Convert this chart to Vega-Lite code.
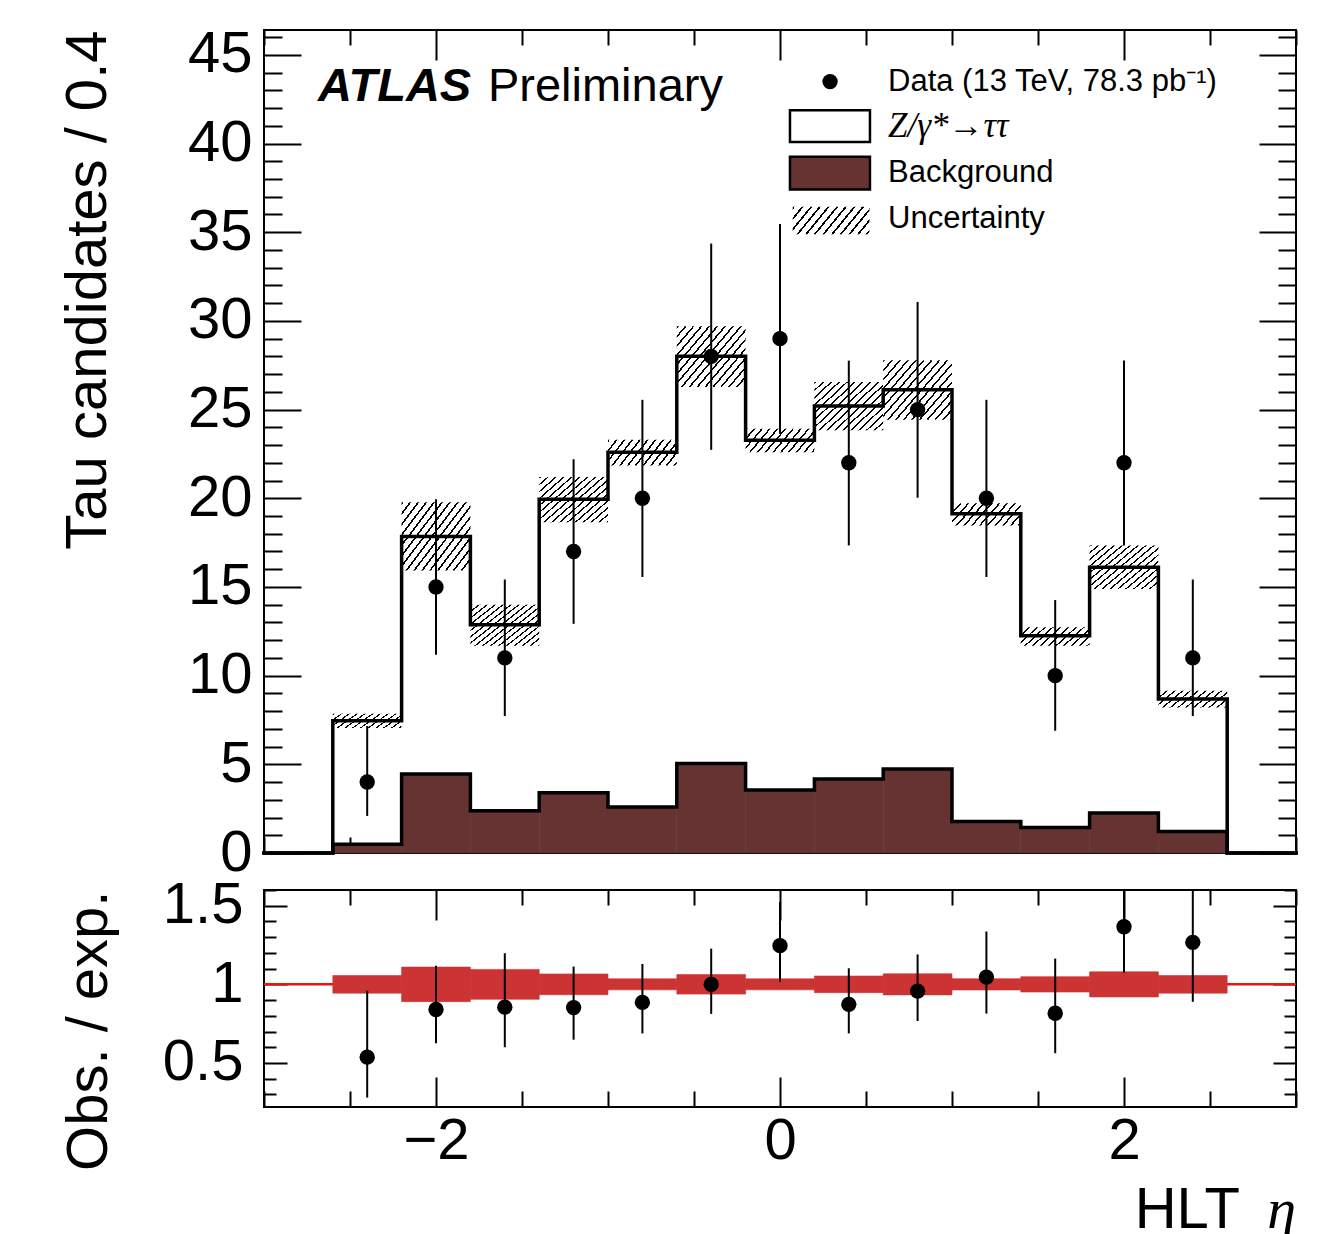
{
"$schema": "https://vega.github.io/schema/vega-lite/v6.json",
"background": "white",
"padding": {"left": 58, "top": 24, "right": 20, "bottom": 0},
"config": {
  "view": {"stroke": "black", "strokeWidth": 2},
  "font": "Liberation Sans",
  "axis": {"domain": false, "grid": false, "tickColor": "black", "tickWidth": 2, "labelColor": "black", "titleColor": "black", "labelFont": "Liberation Sans", "titleFont": "Liberation Sans", "labelFontSize": 58, "titleFontSize": 58, "titleFontWeight": "normal"}
},
"datasets": {"bins": [
{"lo":-3.0,"hi":-2.6,"c":-2.8,"tot":0,"bg":0},
{"lo":-2.6,"hi":-2.2,"c":-2.4,"tot":7.46,"bg":0.5,"ulo":7.05,"uhi":7.85,"n":4,"elo":2.09,"ehi":7.16,"r":0.537,"rlo":0.28,"rhi":0.96,"blo":0.944,"bhi":1.056},
{"lo":-2.2,"hi":-1.8,"c":-2.0,"tot":17.85,"bg":4.45,"ulo":15.93,"uhi":19.78,"n":15,"elo":11.18,"ehi":19.95,"r":0.84,"rlo":0.626,"rhi":1.118,"blo":0.89,"bhi":1.11},
{"lo":-1.8,"hi":-1.4,"c":-1.6,"tot":12.87,"bg":2.38,"ulo":11.69,"uhi":14.0,"n":11,"elo":7.72,"ehi":15.42,"r":0.855,"rlo":0.6,"rhi":1.198,"blo":0.905,"bhi":1.095},
{"lo":-1.4,"hi":-1.0,"c":-1.2,"tot":19.95,"bg":3.4,"ulo":18.65,"uhi":21.2,"n":17,"elo":12.92,"ehi":22.2,"r":0.852,"rlo":0.648,"rhi":1.113,"blo":0.934,"bhi":1.066},
{"lo":-1.0,"hi":-0.6,"c":-0.8,"tot":22.6,"bg":2.6,"ulo":21.85,"uhi":23.3,"n":20,"elo":15.56,"ehi":25.55,"r":0.885,"rlo":0.688,"rhi":1.13,"blo":0.965,"bhi":1.035},
{"lo":-0.6,"hi":-0.2,"c":-0.4,"tot":28.0,"bg":5.05,"ulo":26.27,"uhi":29.7,"n":28,"elo":22.73,"ehi":34.36,"r":1.0,"rlo":0.812,"rhi":1.227,"blo":0.938,"bhi":1.062},
{"lo":-0.2,"hi":0.2,"c":0.0,"tot":23.27,"bg":3.55,"ulo":22.6,"uhi":23.92,"n":29,"elo":23.64,"ehi":35.46,"r":1.246,"rlo":1.016,"rhi":1.524,"blo":0.965,"bhi":1.035},
{"lo":0.2,"hi":0.6,"c":0.4,"tot":25.2,"bg":4.17,"ulo":23.83,"uhi":26.55,"n":22,"elo":17.34,"ehi":27.76,"r":0.873,"rlo":0.688,"rhi":1.102,"blo":0.947,"bhi":1.053},
{"lo":0.6,"hi":1.0,"c":0.8,"tot":26.12,"bg":4.73,"ulo":24.43,"uhi":27.78,"n":25,"elo":20.03,"ehi":31.07,"r":0.957,"rlo":0.767,"rhi":1.19,"blo":0.933,"bhi":1.067},
{"lo":1.0,"hi":1.4,"c":1.2,"tot":19.12,"bg":1.78,"ulo":18.46,"uhi":19.72,"n":20,"elo":15.56,"ehi":25.55,"r":1.046,"rlo":0.814,"rhi":1.336,"blo":0.964,"bhi":1.036},
{"lo":1.4,"hi":1.8,"c":1.6,"tot":12.25,"bg":1.44,"ulo":11.69,"uhi":12.73,"n":10,"elo":6.89,"ehi":14.26,"r":0.816,"rlo":0.562,"rhi":1.164,"blo":0.951,"bhi":1.049},
{"lo":1.8,"hi":2.2,"c":2.0,"tot":16.11,"bg":2.25,"ulo":14.89,"uhi":17.34,"n":22,"elo":17.34,"ehi":27.76,"r":1.366,"rlo":1.076,"rhi":1.723,"blo":0.92,"bhi":1.08},
{"lo":2.2,"hi":2.6,"c":2.4,"tot":8.68,"bg":1.21,"ulo":8.21,"uhi":9.15,"n":11,"elo":7.72,"ehi":15.42,"r":1.267,"rlo":0.889,"rhi":1.776,"blo":0.944,"bhi":1.056},
{"lo":2.6,"hi":3.0,"c":2.8,"tot":0,"bg":0}
]},
"spacing": 37,
"bounds": "flush",
"vconcat": [
{
  "width": 1032, "height": 823,
  "data": {"name": "bins"},
  "resolve": {"axis": {"x": "independent", "y": "independent"}},
  "layer": [
    {
      "mark": {"type": "rect", "fill": "#663333", "stroke": "#663333", "strokeWidth": 0.6},
      "encoding": {
        "x": {"field": "lo", "type": "quantitative", "scale": {"domain": [-3, 3], "nice": false, "zero": false},
              "axis": {"orient": "bottom", "values": [-3,-2.5,-2,-1.5,-1,-0.5,0,0.5,1,1.5,2,2.5,3], "labels": false, "title": null,
                       "tickSize": {"condition": {"test": "datum.value % 2 === 0", "value": -31}, "value": -16}}},
        "x2": {"field": "hi"},
        "y": {"field": "bg", "type": "quantitative", "scale": {"domain": [0, 46.4], "nice": false, "zero": false},
              "axis": {"orient": "left", "values": [0,1,2,3,4,5,6,7,8,9,10,11,12,13,14,15,16,17,18,19,20,21,22,23,24,25,26,27,28,29,30,31,32,33,34,35,36,37,38,39,40,41,42,43,44,45,46],
                       "tickSize": {"condition": {"test": "datum.value % 5 === 0", "value": -37}, "value": -18},
                       "labelExpr": "datum.value % 5 === 0 ? datum.label : ''", "labelPadding": 49,
                       "title": "Tau candidates / 0.4", "titleAnchor": "end", "titlePadding": 70}},
        "y2": {"datum": 0}
      }
    },
    {
      "mark": {"type": "rect"},
      "encoding": {
        "x": {"field": "lo", "type": "quantitative", "scale": {"domain": [-3, 3], "nice": false, "zero": false},
              "axis": {"orient": "top", "values": [-3,-2.5,-2,-1.5,-1,-0.5,0,0.5,1,1.5,2,2.5,3], "labels": false, "title": null,
                       "tickSize": {"condition": {"test": "datum.value % 2 === 0", "value": -30}, "value": -15}}},
        "x2": {"field": "hi"},
        "y": {"field": "ulo", "type": "quantitative", "scale": {"domain": [0, 46.4], "nice": false, "zero": false},
              "axis": {"orient": "right", "values": [0,1,2,3,4,5,6,7,8,9,10,11,12,13,14,15,16,17,18,19,20,21,22,23,24,25,26,27,28,29,30,31,32,33,34,35,36,37,38,39,40,41,42,43,44,45,46],
                       "labels": false, "title": null,
                       "tickSize": {"condition": {"test": "datum.value % 5 === 0", "value": -37}, "value": -18}}},
        "y2": {"field": "uhi"},
        "fill": {
          "condition": {"test": "datum.uhi - datum.ulo > 2", "value": {"gradient": "linear", "x1": 0, "y1": 0, "x2": 1.25, "y2": 0.9375, "stops": [
            {"offset":0,"color":"black"},{"offset":0.0147,"color":"black"},{"offset":0.0147,"color":"white"},
            {"offset":0.0588,"color":"white"},{"offset":0.0588,"color":"black"},{"offset":0.0735,"color":"black"},{"offset":0.0735,"color":"white"},
            {"offset":0.1176,"color":"white"},{"offset":0.1176,"color":"black"},{"offset":0.1324,"color":"black"},{"offset":0.1324,"color":"white"},
            {"offset":0.1765,"color":"white"},{"offset":0.1765,"color":"black"},{"offset":0.1912,"color":"black"},{"offset":0.1912,"color":"white"},
            {"offset":0.2353,"color":"white"},{"offset":0.2353,"color":"black"},{"offset":0.25,"color":"black"},{"offset":0.25,"color":"white"},
            {"offset":0.2941,"color":"white"},{"offset":0.2941,"color":"black"},{"offset":0.3088,"color":"black"},{"offset":0.3088,"color":"white"},
            {"offset":0.3529,"color":"white"},{"offset":0.3529,"color":"black"},{"offset":0.3676,"color":"black"},{"offset":0.3676,"color":"white"},
            {"offset":0.4118,"color":"white"},{"offset":0.4118,"color":"black"},{"offset":0.4265,"color":"black"},{"offset":0.4265,"color":"white"},
            {"offset":0.4706,"color":"white"},{"offset":0.4706,"color":"black"},{"offset":0.4853,"color":"black"},{"offset":0.4853,"color":"white"},
            {"offset":0.5294,"color":"white"},{"offset":0.5294,"color":"black"},{"offset":0.5441,"color":"black"},{"offset":0.5441,"color":"white"},
            {"offset":0.5882,"color":"white"},{"offset":0.5882,"color":"black"},{"offset":0.6029,"color":"black"},{"offset":0.6029,"color":"white"},
            {"offset":0.6471,"color":"white"},{"offset":0.6471,"color":"black"},{"offset":0.6618,"color":"black"},{"offset":0.6618,"color":"white"},
            {"offset":0.7059,"color":"white"},{"offset":0.7059,"color":"black"},{"offset":0.7206,"color":"black"},{"offset":0.7206,"color":"white"},
            {"offset":0.7647,"color":"white"},{"offset":0.7647,"color":"black"},{"offset":0.7794,"color":"black"},{"offset":0.7794,"color":"white"},
            {"offset":0.8235,"color":"white"},{"offset":0.8235,"color":"black"},{"offset":0.8382,"color":"black"},{"offset":0.8382,"color":"white"},
            {"offset":0.8824,"color":"white"},{"offset":0.8824,"color":"black"},{"offset":0.8971,"color":"black"},{"offset":0.8971,"color":"white"},
            {"offset":0.9412,"color":"white"},{"offset":0.9412,"color":"black"},{"offset":0.9559,"color":"black"},{"offset":0.9559,"color":"white"},
            {"offset":1,"color":"white"}]}},
          "value": {"gradient": "linear", "x1": 0, "y1": 0, "x2": 1.25, "y2": 0.3625, "stops": [
            {"offset":0,"color":"black"},{"offset":0.0208,"color":"black"},{"offset":0.0208,"color":"white"},
            {"offset":0.0833,"color":"white"},{"offset":0.0833,"color":"black"},{"offset":0.1042,"color":"black"},{"offset":0.1042,"color":"white"},
            {"offset":0.1667,"color":"white"},{"offset":0.1667,"color":"black"},{"offset":0.1875,"color":"black"},{"offset":0.1875,"color":"white"},
            {"offset":0.25,"color":"white"},{"offset":0.25,"color":"black"},{"offset":0.2708,"color":"black"},{"offset":0.2708,"color":"white"},
            {"offset":0.3333,"color":"white"},{"offset":0.3333,"color":"black"},{"offset":0.3542,"color":"black"},{"offset":0.3542,"color":"white"},
            {"offset":0.4167,"color":"white"},{"offset":0.4167,"color":"black"},{"offset":0.4375,"color":"black"},{"offset":0.4375,"color":"white"},
            {"offset":0.5,"color":"white"},{"offset":0.5,"color":"black"},{"offset":0.5208,"color":"black"},{"offset":0.5208,"color":"white"},
            {"offset":0.5833,"color":"white"},{"offset":0.5833,"color":"black"},{"offset":0.6042,"color":"black"},{"offset":0.6042,"color":"white"},
            {"offset":0.6667,"color":"white"},{"offset":0.6667,"color":"black"},{"offset":0.6875,"color":"black"},{"offset":0.6875,"color":"white"},
            {"offset":0.75,"color":"white"},{"offset":0.75,"color":"black"},{"offset":0.7708,"color":"black"},{"offset":0.7708,"color":"white"},
            {"offset":0.8333,"color":"white"},{"offset":0.8333,"color":"black"},{"offset":0.8542,"color":"black"},{"offset":0.8542,"color":"white"},
            {"offset":0.9167,"color":"white"},{"offset":0.9167,"color":"black"},{"offset":0.9375,"color":"black"},{"offset":0.9375,"color":"white"},
            {"offset":1,"color":"white"}]}
        }
      }
    },
    {
      "transform": [{"fold": ["lo", "hi"], "as": ["side", "edge"]}],
      "mark": {"type": "line", "color": "black", "strokeWidth": 3.5, "strokeJoin": "miter", "strokeCap": "square"},
      "encoding": {
        "x": {"field": "edge", "type": "quantitative", "scale": {"domain": [-3, 3], "nice": false, "zero": false}, "axis": null},
        "y": {"field": "tot", "type": "quantitative", "scale": {"domain": [0, 46.4], "nice": false, "zero": false}, "axis": null},
        "order": [{"field": "edge", "type": "quantitative"}, {"field": "side", "type": "nominal", "sort": "ascending"}]
      }
    },
    {
      "transform": [{"fold": ["lo", "hi"], "as": ["side", "edge"]}],
      "mark": {"type": "line", "color": "black", "strokeWidth": 3.5, "strokeJoin": "miter", "strokeCap": "square"},
      "encoding": {
        "x": {"field": "edge", "type": "quantitative", "scale": {"domain": [-3, 3], "nice": false, "zero": false}, "axis": null},
        "y": {"field": "bg", "type": "quantitative", "scale": {"domain": [0, 46.4], "nice": false, "zero": false}, "axis": null},
        "order": [{"field": "edge", "type": "quantitative"}, {"field": "side", "type": "nominal", "sort": "ascending"}]
      }
    },
    {
      "mark": {"type": "rule", "color": "black", "strokeWidth": 2},
      "encoding": {
        "x": {"field": "c", "type": "quantitative", "scale": {"domain": [-3, 3], "nice": false, "zero": false}, "axis": null},
        "y": {"field": "elo", "type": "quantitative", "scale": {"domain": [0, 46.4], "nice": false, "zero": false}, "axis": null},
        "y2": {"field": "ehi"}
      }
    },
    {
      "mark": {"type": "point", "shape": "circle", "filled": true, "color": "black", "opacity": 1, "size": 236},
      "encoding": {
        "x": {"field": "c", "type": "quantitative", "scale": {"domain": [-3, 3], "nice": false, "zero": false}, "axis": null},
        "y": {"field": "n", "type": "quantitative", "scale": {"domain": [0, 46.4], "nice": false, "zero": false}, "axis": null}
      }
    },
    {
      "data": {"values": [{}]},
      "mark": {"type": "point", "shape": "circle", "filled": true, "color": "black", "opacity": 1, "size": 236},
      "encoding": {
        "x": {"datum": 0.291, "type": "quantitative", "scale": {"domain": [-3, 3], "nice": false, "zero": false}, "axis": null},
        "y": {"datum": 43.49, "type": "quantitative", "scale": {"domain": [0, 46.4], "nice": false, "zero": false}, "axis": null}
      }
    },
    {
      "data": {"values": [{}]},
      "mark": {"type": "rect", "fill": "white", "stroke": "black", "strokeWidth": 2.5},
      "encoding": {
        "x": {"datum": 0.058, "type": "quantitative", "scale": {"domain": [-3, 3], "nice": false, "zero": false}, "axis": null},
        "x2": {"datum": 0.523},
        "y": {"datum": 41.88, "type": "quantitative", "scale": {"domain": [0, 46.4], "nice": false, "zero": false}, "axis": null},
        "y2": {"datum": 40.08}
      }
    },
    {
      "data": {"values": [{}]},
      "mark": {"type": "rect", "fill": "#663333", "stroke": "black", "strokeWidth": 2.5},
      "encoding": {
        "x": {"datum": 0.058, "type": "quantitative", "scale": {"domain": [-3, 3], "nice": false, "zero": false}, "axis": null},
        "x2": {"datum": 0.523},
        "y": {"datum": 39.25, "type": "quantitative", "scale": {"domain": [0, 46.4], "nice": false, "zero": false}, "axis": null},
        "y2": {"datum": 37.41}
      }
    },
    {
      "data": {"values": [{}]},
      "mark": {"type": "rect", "fill": {"gradient": "linear", "x1": 0, "y1": 0, "x2": 1.25, "y2": 0.3625, "stops": [
            {"offset":0,"color":"black"},{"offset":0.0208,"color":"black"},{"offset":0.0208,"color":"white"},
            {"offset":0.0833,"color":"white"},{"offset":0.0833,"color":"black"},{"offset":0.1042,"color":"black"},{"offset":0.1042,"color":"white"},
            {"offset":0.1667,"color":"white"},{"offset":0.1667,"color":"black"},{"offset":0.1875,"color":"black"},{"offset":0.1875,"color":"white"},
            {"offset":0.25,"color":"white"},{"offset":0.25,"color":"black"},{"offset":0.2708,"color":"black"},{"offset":0.2708,"color":"white"},
            {"offset":0.3333,"color":"white"},{"offset":0.3333,"color":"black"},{"offset":0.3542,"color":"black"},{"offset":0.3542,"color":"white"},
            {"offset":0.4167,"color":"white"},{"offset":0.4167,"color":"black"},{"offset":0.4375,"color":"black"},{"offset":0.4375,"color":"white"},
            {"offset":0.5,"color":"white"},{"offset":0.5,"color":"black"},{"offset":0.5208,"color":"black"},{"offset":0.5208,"color":"white"},
            {"offset":0.5833,"color":"white"},{"offset":0.5833,"color":"black"},{"offset":0.6042,"color":"black"},{"offset":0.6042,"color":"white"},
            {"offset":0.6667,"color":"white"},{"offset":0.6667,"color":"black"},{"offset":0.6875,"color":"black"},{"offset":0.6875,"color":"white"},
            {"offset":0.75,"color":"white"},{"offset":0.75,"color":"black"},{"offset":0.7708,"color":"black"},{"offset":0.7708,"color":"white"},
            {"offset":0.8333,"color":"white"},{"offset":0.8333,"color":"black"},{"offset":0.8542,"color":"black"},{"offset":0.8542,"color":"white"},
            {"offset":0.9167,"color":"white"},{"offset":0.9167,"color":"black"},{"offset":0.9375,"color":"black"},{"offset":0.9375,"color":"white"},
            {"offset":1,"color":"white"}]}},
      "encoding": {
        "x": {"datum": 0.074, "type": "quantitative", "scale": {"domain": [-3, 3], "nice": false, "zero": false}, "axis": null},
        "x2": {"datum": 0.52},
        "y": {"datum": 36.43, "type": "quantitative", "scale": {"domain": [0, 46.4], "nice": false, "zero": false}, "axis": null},
        "y2": {"datum": 34.89}
      }
    },
    {
      "data": {"values": [{}]},
      "mark": {"type": "text", "text": "Data (13 TeV, 78.3 pb⁻¹)", "font": "Liberation Sans", "fontSize": 31, "align": "left", "baseline": "middle", "color": "black"},
      "encoding": {
        "x": {"datum": 0.628, "type": "quantitative", "scale": {"domain": [-3, 3], "nice": false, "zero": false}, "axis": null},
        "y": {"datum": 43.49, "type": "quantitative", "scale": {"domain": [0, 46.4], "nice": false, "zero": false}, "axis": null}
      }
    },
    {
      "data": {"values": [{}]},
      "mark": {"type": "text", "text": "Z/γ*→ττ", "font": "Liberation Serif", "fontStyle": "italic", "fontSize": 35, "align": "left", "baseline": "middle", "color": "black"},
      "encoding": {
        "x": {"datum": 0.628, "type": "quantitative", "scale": {"domain": [-3, 3], "nice": false, "zero": false}, "axis": null},
        "y": {"datum": 40.98, "type": "quantitative", "scale": {"domain": [0, 46.4], "nice": false, "zero": false}, "axis": null}
      }
    },
    {
      "data": {"values": [{}]},
      "mark": {"type": "text", "text": "Background", "font": "Liberation Sans", "fontSize": 31, "align": "left", "baseline": "middle", "color": "black"},
      "encoding": {
        "x": {"datum": 0.628, "type": "quantitative", "scale": {"domain": [-3, 3], "nice": false, "zero": false}, "axis": null},
        "y": {"datum": 38.35, "type": "quantitative", "scale": {"domain": [0, 46.4], "nice": false, "zero": false}, "axis": null}
      }
    },
    {
      "data": {"values": [{}]},
      "mark": {"type": "text", "text": "Uncertainty", "font": "Liberation Sans", "fontSize": 31, "align": "left", "baseline": "middle", "color": "black"},
      "encoding": {
        "x": {"datum": 0.628, "type": "quantitative", "scale": {"domain": [-3, 3], "nice": false, "zero": false}, "axis": null},
        "y": {"datum": 35.72, "type": "quantitative", "scale": {"domain": [0, 46.4], "nice": false, "zero": false}, "axis": null}
      }
    },
    {
      "data": {"values": [{}]},
      "mark": {"type": "text", "text": "ATLAS", "font": "Liberation Sans", "fontSize": 47, "fontStyle": "italic", "fontWeight": "bold", "align": "left", "baseline": "alphabetic", "color": "black"},
      "encoding": {
        "x": {"datum": -2.686, "type": "quantitative", "scale": {"domain": [-3, 3], "nice": false, "zero": false}, "axis": null},
        "y": {"datum": 42.41, "type": "quantitative", "scale": {"domain": [0, 46.4], "nice": false, "zero": false}, "axis": null}
      }
    },
    {
      "data": {"values": [{}]},
      "mark": {"type": "text", "text": "Preliminary", "font": "Liberation Sans", "fontSize": 47, "align": "left", "baseline": "alphabetic", "color": "black"},
      "encoding": {
        "x": {"datum": -1.698, "type": "quantitative", "scale": {"domain": [-3, 3], "nice": false, "zero": false}, "axis": null},
        "y": {"datum": 42.41, "type": "quantitative", "scale": {"domain": [0, 46.4], "nice": false, "zero": false}, "axis": null}
      }
    }
  ]
},
{
  "width": 1032, "height": 217,
  "data": {"name": "bins"},
  "resolve": {"axis": {"x": "independent", "y": "independent"}},
  "layer": [
    {
      "data": {"values": [{}]},
      "mark": {"type": "rule", "color": "#ee1111", "strokeWidth": 2.5},
      "encoding": {
        "y": {"datum": 1, "type": "quantitative", "scale": {"domain": [0.22, 1.6], "nice": false, "zero": false}, "axis": null}
      }
    },
    {
      "mark": {"type": "rect", "fill": "#cc3333", "stroke": "#cc3333", "strokeWidth": 0.6},
      "encoding": {
        "x": {"field": "lo", "type": "quantitative", "scale": {"domain": [-3, 3], "nice": false, "zero": false},
              "axis": {"orient": "bottom", "values": [-3,-2.5,-2,-1.5,-1,-0.5,0,0.5,1,1.5,2,2.5,3], "title": null,
                       "tickSize": {"condition": {"test": "datum.value % 2 === 0", "value": -30}, "value": -16},
                       "labelExpr": "datum.value % 2 === 0 ? format(datum.value, 'd') : ''", "labelPadding": 35}},
        "x2": {"field": "hi"},
        "y": {"field": "blo", "type": "quantitative", "scale": {"domain": [0.22, 1.6], "nice": false, "zero": false},
              "axis": {"orient": "left", "values": [0.3,0.4,0.5,0.6,0.7,0.8,0.9,1,1.1,1.2,1.3,1.4,1.5,1.6],
                       "tickSize": {"condition": {"test": "datum.value == 0.5 || datum.value == 1 || datum.value == 1.5", "value": -23}, "value": -12},
                       "labelExpr": "datum.value == 0.5 ? '0.5' : datum.value == 1 ? '1' : datum.value == 1.5 ? '1.5' : ''", "labelPadding": 44,
                       "title": "Obs. / exp.", "titleAnchor": "end", "titlePadding": 44}},
        "y2": {"field": "bhi"}
      }
    },
    {
      "mark": {"type": "rule", "color": "black", "strokeWidth": 2, "clip": true},
      "encoding": {
        "x": {"field": "c", "type": "quantitative", "scale": {"domain": [-3, 3], "nice": false, "zero": false},
              "axis": {"orient": "top", "values": [-3,-2.5,-2,-1.5,-1,-0.5,0,0.5,1,1.5,2,2.5,3], "labels": false, "title": null,
                       "tickSize": {"condition": {"test": "datum.value % 2 === 0", "value": -30}, "value": -15}}},
        "y": {"field": "rlo", "type": "quantitative", "scale": {"domain": [0.22, 1.6], "nice": false, "zero": false},
              "axis": {"orient": "right", "values": [0.3,0.4,0.5,0.6,0.7,0.8,0.9,1,1.1,1.2,1.3,1.4,1.5,1.6], "labels": false, "title": null,
                       "tickSize": {"condition": {"test": "datum.value == 0.5 || datum.value == 1 || datum.value == 1.5", "value": -23}, "value": -12}}},
        "y2": {"field": "rhi"}
      }
    },
    {
      "mark": {"type": "point", "shape": "circle", "filled": true, "color": "black", "opacity": 1, "size": 236},
      "encoding": {
        "x": {"field": "c", "type": "quantitative", "scale": {"domain": [-3, 3], "nice": false, "zero": false}, "axis": null},
        "y": {"field": "r", "type": "quantitative", "scale": {"domain": [0.22, 1.6], "nice": false, "zero": false}, "axis": null}
      }
    },
    {
      "data": {"values": [{}]},
      "mark": {"type": "text", "text": "HLT", "font": "Liberation Sans", "fontSize": 58, "align": "right", "baseline": "alphabetic", "color": "black"},
      "encoding": {
        "x": {"datum": 2.674, "type": "quantitative", "scale": {"domain": [-3, 3], "nice": false, "zero": false}, "axis": null},
        "y": {"datum": -0.55, "type": "quantitative", "scale": {"domain": [0.22, 1.6], "nice": false, "zero": false}, "axis": null}
      }
    },
    {
      "data": {"values": [{}]},
      "mark": {"type": "text", "text": "η", "font": "Liberation Serif", "fontStyle": "italic", "fontSize": 58, "align": "right", "baseline": "alphabetic", "color": "black"},
      "encoding": {
        "x": {"datum": 3, "type": "quantitative", "scale": {"domain": [-3, 3], "nice": false, "zero": false}, "axis": null},
        "y": {"datum": -0.55, "type": "quantitative", "scale": {"domain": [0.22, 1.6], "nice": false, "zero": false}, "axis": null}
      }
    }
  ]
}
]
}
